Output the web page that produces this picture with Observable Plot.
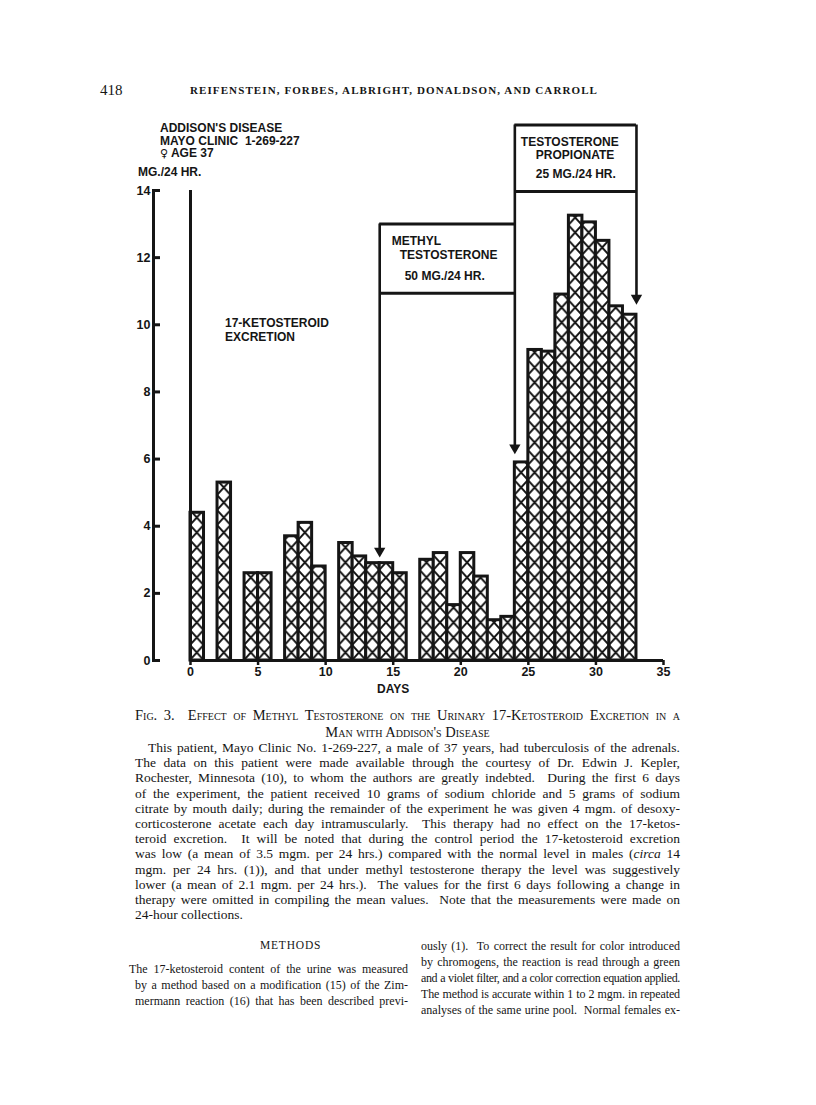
<!DOCTYPE html>
<html><head><meta charset="utf-8">
<script src="https://cdn.jsdelivr.net/npm/d3@7"></script>
<script src="https://cdn.jsdelivr.net/npm/@observablehq/plot@0.6"></script>
<style>
body{margin:0;background:#fff;}
#page{position:relative;width:816px;height:1105px;overflow:hidden;background:#fff;color:#151515;}
.a{position:absolute;white-space:nowrap;line-height:1;}
.serif{font-family:"Liberation Serif","DejaVu Serif",serif;}
.sans{font-family:"Liberation Sans",Arial,sans-serif;font-weight:bold;font-size:12px;}
.j{position:absolute;white-space:nowrap;line-height:1;text-align:justify;text-align-last:justify;font-family:"Liberation Serif","DejaVu Serif",serif;font-size:13.5px;}
.c{font-size:12px;}
.sc{font-variant:small-caps;}
#chart{position:absolute;left:100px;top:110px;}
</style></head>
<body><div id="page">
<div class="a serif" style="left:100px;top:83px;font-size:15px;">418</div>
<div class="a serif" style="left:190px;top:85px;font-size:11px;font-weight:bold;letter-spacing:1.1px;">REIFENSTEIN, FORBES, ALBRIGHT, DONALDSON, AND CARROLL</div>

<div id="chart"></div>

<div class="a sans" style="left:160px;top:122px;">ADDISON'S DISEASE</div>
<div class="a sans" style="left:160px;top:134.5px;">MAYO CLINIC&nbsp; 1-269-227</div>
<div class="a sans" style="left:160px;top:147px;"><span style="font-family:'DejaVu Sans';font-size:11px;line-height:1;">♀</span> AGE 37</div>
<div class="a sans" style="left:138px;top:166px;">MG./24 HR.</div>
<div class="a sans" style="left:225px;top:317px;">17-KETOSTEROID</div>
<div class="a sans" style="left:225px;top:330.5px;">EXCRETION</div>
<div class="a sans" style="left:377px;top:683px;">DAYS</div>

<div class="j sc" style="left:135px;width:545px;top:708px;font-size:14.5px;">Fig. 3.&nbsp; Effect of Methyl Testosterone on the Urinary 17-Ketosteroid Excretion in a</div>
<div class="a serif sc" style="left:135px;width:545px;text-align:center;top:725px;font-size:14.5px;">Man with Addison's Disease</div>

<div class="j" style="left:148px;width:532px;top:741px;">This patient, Mayo Clinic No. 1-269-227, a male of 37 years, had tuberculosis of the adrenals.</div>
<div class="j" style="left:135px;width:545px;top:756.2px;">The data on this patient were made available through the courtesy of Dr. Edwin J. Kepler,</div>
<div class="j" style="left:135px;width:545px;top:771.4px;">Rochester, Minnesota (10), to whom the authors are greatly indebted.&nbsp; During the first 6 days</div>
<div class="j" style="left:135px;width:545px;top:786.6px;">of the experiment, the patient received 10 grams of sodium chloride and 5 grams of sodium</div>
<div class="j" style="left:135px;width:545px;top:801.8px;">citrate by mouth daily; during the remainder of the experiment he was given 4 mgm. of desoxy-</div>
<div class="j" style="left:135px;width:545px;top:817px;">corticosterone acetate each day intramuscularly.&nbsp; This therapy had no effect on the 17-ketos-</div>
<div class="j" style="left:135px;width:545px;top:832.2px;">teroid excretion.&nbsp; It will be noted that during the control period the 17-ketosteroid excretion</div>
<div class="j" style="left:135px;width:545px;top:847.4px;">was low (a mean of 3.5 mgm. per 24 hrs.) compared with the normal level in males (<i>circa</i> 14</div>
<div class="j" style="left:135px;width:545px;top:862.6px;">mgm. per 24 hrs. (1)), and that under methyl testosterone therapy the level was suggestively</div>
<div class="j" style="left:135px;width:545px;top:877.8px;">lower (a mean of 2.1 mgm. per 24 hrs.).&nbsp; The values for the first 6 days following a change in</div>
<div class="j" style="left:135px;width:545px;top:893px;">therapy were omitted in compiling the mean values.&nbsp; Note that the measurements were made on</div>
<div class="a serif" style="left:135px;top:908.2px;font-size:13.5px;">24-hour collections.</div>

<div class="a serif" style="left:260px;top:940px;font-size:11.5px;letter-spacing:0.8px;">METHODS</div>
<div class="j c" style="left:129px;width:279px;top:963px;">The 17-ketosteroid content of the urine was measured</div>
<div class="j c" style="left:135px;width:273px;top:979px;">by a method based on a modification (15) of the Zim-</div>
<div class="j c" style="left:135px;width:273px;top:995px;">mermann reaction (16) that has been described previ-</div>
<div class="j c" style="left:421px;width:259px;top:940px;">ously (1).&nbsp; To correct the result for color introduced</div>
<div class="j c" style="left:421px;width:259px;top:956px;">by chromogens, the reaction is read through a green</div>
<div class="j c" style="left:421px;width:259px;top:972px;">and a violet filter, and a color correction equation applied.</div>
<div class="j c" style="left:421px;width:259px;top:988px;">The method is accurate within 1 to 2 mgm. in repeated</div>
<div class="j c" style="left:421px;width:259px;top:1004px;">analyses of the same urine pool.&nbsp; Normal females ex-</div>
</div>
<script>
// ---- data ----
const days = [0, 2, 4, 5, 7, 8, 9, 11, 12, 13, 14, 15, 17, 18, 19, 20, 21, 22, 23, 24, 25, 26, 27, 28, 29, 30, 31, 32];
const ketosteroid = [4.4, 5.3, 2.6, 2.6, 3.7, 4.1, 2.8, 3.5, 3.1, 2.9, 2.9, 2.6, 3.0, 3.2, 1.65, 3.2, 2.5, 1.2, 1.3, 5.9, 9.25, 9.2, 10.9, 13.25, 13.05, 12.5, 10.55, 10.3];
const xTicks = [0, 5, 10, 15, 20, 25, 30, 35];
const yTicks = [0, 2, 4, 6, 8, 10, 12, 14];
const xDomain = [0, 35];
const yDomain = [0, 14];
const experimentStart = [0];
// treatment periods (day started, day ended) and their label boxes (in mg/24 hr units)
const treatmentLabels = [["METHYL", "TESTOSTERONE", "50 MG./24 HR."], ["TESTOSTERONE", "PROPIONATE", "25 MG./24 HR."]];
const treatmentStart = [14, 24];
const treatmentEnd = [24, 33];
const boxTop = [13, 15.95];
const boxBottom = [10.94, 13.97];
const startArrowTip = [3.19, 6.26];
const endArrowTip = [null, 10.72];
// label line offsets inside the boxes (pixels)
const labelDx = [[12, 20, 25], [6, 21, 21]];
const labelDy = [[17, 31, 52.5], [17.5, 30, 49]];

const bars = days.map((d, i) => ({day: d, value: ketosteroid[i]}));
const treatments = treatmentStart.map((s, i) => ({start: s, end: treatmentEnd[i], top: boxTop[i], bottom: boxBottom[i], tip: startArrowTip[i], endTip: endArrowTip[i]}));
const ink = "#151515";

const marks = [
  Plot.rectY(bars, {x1: "day", x2: d => d.day + 1, y: "value", fill: "url(#xhatch)", stroke: ink, strokeWidth: 3}),
  Plot.ruleX(experimentStart, {x: d => d, y1: yDomain[0], y2: yDomain[1], stroke: ink, strokeWidth: 3}),
  Plot.ruleY([0], {x1: xDomain[0], x2: xDomain[1], stroke: ink, strokeWidth: 3}),
  Plot.frame({anchor: "left", stroke: ink, strokeWidth: 3}),
  Plot.axisY({ticks: yTicks, tickSize: -7, tickPadding: 10, stroke: ink, strokeWidth: 3, fontSize: 12.5, label: null}),
  Plot.axisX({ticks: xTicks, tickSize: 5, tickPadding: 2, stroke: ink, strokeWidth: 2.5, fontSize: 12.5, label: null}),
  // boxes
  Plot.ruleY(treatments, {y: "top", x1: "start", x2: "end", stroke: ink, strokeWidth: 3}),
  Plot.ruleY(treatments, {y: "bottom", x1: "start", x2: "end", stroke: ink, strokeWidth: 3}),
  Plot.ruleX(treatments, {x: "start", y1: "top", y2: "tip", stroke: ink, strokeWidth: 2.6}),
  Plot.ruleX(treatments.filter(t => t.endTip != null), {x: "end", y1: "top", y2: "endTip", stroke: ink, strokeWidth: 2.6}),
  Plot.dot(treatments, {x: "start", y: "tip", symbol: "triangle", r: 4.2, rotate: 180, fill: ink, stroke: null, dy: -2.5}),
  Plot.dot(treatments.filter(t => t.endTip != null), {x: "end", y: "endTip", symbol: "triangle", r: 4.2, rotate: 180, fill: ink, stroke: null, dy: -2.5})
];
treatments.forEach((t, i) => {
  treatmentLabels[i].forEach((line, j) => {
    marks.push(Plot.text([t], {x: "start", y: "top", text: () => line, textAnchor: "start", lineAnchor: "middle", dx: labelDx[i][j], dy: labelDy[i][j], fontSize: 12, fontWeight: "bold", fill: ink}));
  });
});

const chart = Plot.plot({
  width: 600, height: 590,
  marginTop: 80, marginBottom: 40, marginLeft: 53, marginRight: 37,
  style: {fontFamily: "'Liberation Sans', Arial, sans-serif", fontWeight: "bold", fontSize: "12.5px", color: ink, background: "transparent", overflow: "visible"},
  x: {domain: xDomain, range: [90, 563]},
  y: {domain: yDomain, range: [550, 80]},
  marks
});

const xs = chart.scale("x"), ys = chart.scale("y");
const cw = xs.apply(1) - xs.apply(0);
const ch = 15;
const defs = d3.select(chart).insert("defs", ":first-child");
const pat = defs.append("pattern").attr("id", "xhatch").attr("patternUnits", "userSpaceOnUse")
  .attr("x", xs.apply(0)).attr("y", ys.apply(0)).attr("width", cw).attr("height", ch);
pat.append("rect").attr("width", cw).attr("height", ch).attr("fill", "#fff");
pat.append("path").attr("d", `M0,0L${cw},${ch}M${cw},0L0,${ch}`).attr("stroke", ink).attr("stroke-width", 1.9).attr("stroke-linecap", "square");
document.getElementById("chart").appendChild(chart);

// squeeze any justified line whose natural width exceeds its column
document.querySelectorAll(".j").forEach(el => {
  const target = parseFloat(el.style.width);
  const probe = el.cloneNode(true);
  probe.style.width = "auto"; probe.style.textAlignLast = "left"; probe.style.display = "inline-block"; probe.style.visibility = "hidden";
  el.parentNode.appendChild(probe);
  const w = probe.getBoundingClientRect().width;
  probe.remove();
  if (w > target) {
    const n = el.textContent.length;
    el.style.letterSpacing = ((target - w) / n - 0.05).toFixed(3) + "px";
  }
});
</script>
</body></html>
